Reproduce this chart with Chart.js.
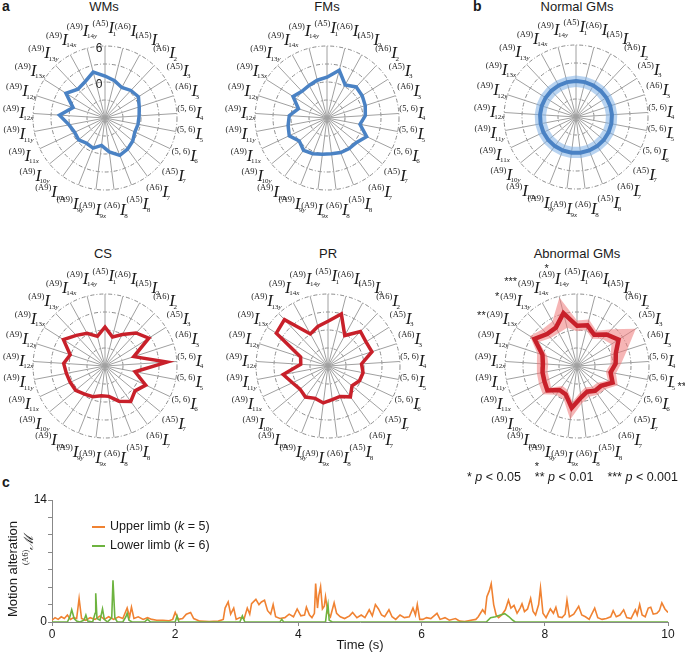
<!DOCTYPE html>
<html>
<head>
<meta charset="utf-8">
<script src="https://cdn.jsdelivr.net/npm/chart.js@4.4.1/dist/chart.umd.min.js"></script>
<style>
  body { margin: 0; background: #fff; }
  #fig { position: relative; width: 685px; height: 655px; overflow: hidden; font-family: "Liberation Sans", Arial, sans-serif; color: #1a1a1a; }
  .abs { position: absolute; white-space: nowrap; }
  .tag { font-weight: bold; font-size: 14px; }
  .ttl { font-size: 13px; transform: translateX(-50%); }
  canvas { position: absolute; }
</style>
</head>
<body>
<div id="fig">
  <div class="abs tag" style="left:2px;top:-2px">a</div>
  <div class="abs tag" style="left:473px;top:-2px">b</div>
  <div class="abs tag" style="left:2px;top:474px">c</div>

  <div class="abs ttl" style="left:104px;top:-1px">WMs</div>
  <div class="abs ttl" style="left:327px;top:-1px">FMs</div>
  <div class="abs ttl" style="left:577px;top:-1px">Normal GMs</div>
  <div class="abs ttl" style="left:103px;top:246px">CS</div>
  <div class="abs ttl" style="left:328px;top:246px">PR</div>
  <div class="abs ttl" style="left:577px;top:246px">Abnormal GMs</div>

  <canvas id="wms"></canvas>
  <canvas id="fms"></canvas>
  <canvas id="normal"></canvas>
  <canvas id="cs"></canvas>
  <canvas id="pr"></canvas>
  <canvas id="abnormal"></canvas>

  <div class="abs" style="left:467px;top:470px;font-size:12.5px">* <i>p</i> &lt; 0.05 &nbsp;&nbsp; ** <i>p</i> &lt; 0.01 &nbsp;&nbsp; *** <i>p</i> &lt; 0.001</div>

  <canvas id="motion"></canvas>

  <div class="abs" style="left:92px;top:526px;width:13px;height:2px;background:#f08232"></div>
  <div class="abs" style="left:110px;top:519px;font-size:12.5px">Upper limb (<i>k</i> = 5)</div>
  <div class="abs" style="left:92px;top:545px;width:13px;height:2px;background:#6db33f"></div>
  <div class="abs" style="left:110px;top:538px;font-size:12.5px">Lower limb (<i>k</i> = 6)</div>

  <div class="abs" style="left:12px;top:569px;font-size:13px;transform:translate(-50%,-50%) rotate(-90deg)">Motion alteration</div>
  <div class="abs" style="left:28px;top:550px;font-size:13px;transform:translate(-50%,-50%) rotate(-90deg)"><span style="font-size:8px;vertical-align:5px;font-family:'Liberation Serif'">(A6)</span><span style="font-family:'DejaVu Serif';font-style:italic">ℳ</span></div>
  <div class="abs" style="left:360px;top:637px;font-size:13px;transform:translateX(-50%)">Time (s)</div>
</div>

<script>
// spoke labels: superscript prefix + I + subscript
const spokePrefix = ['(A5)', '(A6)', '(A5)', '(A6)', '(A5)', '(A6)', '(5, 6)', '(5, 6)', '(5, 6)', '(A5)', '(A6)', '(A5)', '(A6)',
  '(A9)', '(A9)', '(A9)', '(A9)', '(A9)', '(A9)', '(A9)', '(A9)', '(A9)', '(A9)', '(A9)', '(A9)'];
const spokeIndex = ['1', '1', '2', '2', '3', '3', '4', '5', '6', '7', '7', '8', '8',
  '9x', '9y', '10x', '10y', '11x', '11y', '12x', '12y', '13x', '13y', '14x', '14y'];

// panel a
const wmsValues = [1.0, 0.4, -0.2, 0.3, 0.6, 0.0, -0.3, -0.4, -0.5, 0.0, 0.4, 0.7, -0.3, -1.4, -0.6, -0.8, -0.3, -0.4, 0.1, 1.6, -0.4, 1.7, 0.6, 0.9, 1.9];
const fmsValues = [0.8, 2.2, 0.3, 1.1, 0.95, 0.7, 0.4, -0.4, 1.3, 0.4, 0.3, 0.2, 0.0, 0.1, 0.4, 0.65, 0.0, 0.95, 0.6, 0.3, -1.0, 0.7, 0.1, 0.2, 0.5];
const csValues = [0.5, -1.0, 0.0, 1.55, 2.65, -0.95, 4.35, -0.9, 1.5, 0.5, 1.3, 0.3, -0.9, -1.0, -0.5, -0.2, 0.35, 0.4, 0.55, 0.9, 0.1, 2.2, 1.0, 0.2, -0.9];
const prValues = [1.45, 2.95, -0.2, 1.9, 1.5, 1.7, -0.4, -0.05, -0.2, -0.8, 0.35, -0.55, -0.35, 0.2, -0.2, 0.4, 0.05, 0.55, 1.6, -1.45, -1.2, 4.2, 4.6, 0.1, 0.8];

// panel b
const normalMean = [0, 0, 0, 0, 0, 0, 0, 0, 0, 0, 0, 0, 0, 0, 0, 0, 0, 0, 0, 0, 0, 0, 0, 0, 0];
const normalUpper = [0.9, 0.9, 0.9, 0.9, 0.9, 0.9, 0.9, 0.9, 0.9, 0.9, 0.9, 0.9, 0.9, 0.9, 0.9, 0.9, 0.9, 0.9, 0.9, 0.9, 0.9, 0.9, 0.9, 0.9, 0.9];
const normalLower = [-1.0, -1.0, -1.0, -1.0, -1.0, -1.0, -1.0, -1.0, -1.0, -1.0, -1.0, -1.0, -1.0, -1.0, -1.0, -1.0, -1.0, -1.0, -1.0, -1.0, -1.0, -1.0, -1.0, -1.0, -1.0];
const abnormalMean = [0.7, 1.0, -0.05, 1.2, 2.2, 0.8, 0.45, -0.3, 0.55, -0.8, -0.9, -1.4, -0.7, 1.05, -0.9, -1.05, 0.4, 0.0, -0.15, -0.3, 0.05, 2.4, 1.3, 1.3, 3.1];
const abnormalUpper = [1.6, 2.0, 0.7, 2.4, 5.6, 2.8, 1.4, 0.6, 1.5, 0.1, -0.1, -0.5, 0.3, 3.0, 0.0, -0.1, 1.4, 1.0, 0.8, 0.7, 1.0, 3.3, 2.4, 2.5, 5.8];
const abnormalLower = [-0.2, 0.2, -0.8, 0.2, 0.8, -0.1, -0.4, -1.1, -0.3, -1.6, -1.7, -2.2, -1.6, 0.0, -1.7, -1.9, -0.4, -0.9, -1.0, -1.2, -0.8, 1.5, 0.4, 0.3, 0.6];
const abnormalStars = ['', '', '', '', '', '', '', '**', '', '', '', '', '', '', '*', '', '', '', '', '', '', '**', '*', '***', '*'];

// panel c
const upperT = [0.00, 0.05, 0.10, 0.15, 0.20, 0.25, 0.30, 0.35, 0.40, 0.44, 0.48, 0.55, 0.62, 0.70, 0.78, 0.85, 0.92, 1.00, 1.08, 1.15,
  1.22, 1.26, 1.29, 1.33, 1.40, 1.48, 1.55, 1.62, 1.70, 1.80, 1.90, 1.96, 2.00, 2.05, 2.12, 2.18, 2.25, 2.30, 2.40, 2.55,
  2.70, 2.78, 2.81, 2.86, 2.90, 2.95, 2.99, 3.05, 3.12, 3.17, 3.21, 3.24, 3.31, 3.36, 3.40, 3.45, 3.50, 3.55, 3.59, 3.63,
  3.70, 3.78, 3.85, 3.92, 3.98, 4.04, 4.10, 4.13, 4.18, 4.22, 4.26, 4.28, 4.31, 4.33, 4.36, 4.39, 4.42, 4.44, 4.48, 4.52,
  4.58, 4.62, 4.68, 4.75, 4.83, 4.88, 4.95, 5.02, 5.08, 5.15, 5.20, 5.25, 5.30, 5.35, 5.40, 5.47, 5.52, 5.58, 5.65, 5.72,
  5.80, 5.86, 5.90, 5.93, 5.97, 6.02, 6.08, 6.15, 6.25, 6.30, 6.38, 6.45, 6.55, 6.62, 6.70, 6.80, 6.88, 6.92, 6.99, 7.03,
  7.06, 7.10, 7.13, 7.17, 7.21, 7.25, 7.30, 7.36, 7.41, 7.45, 7.50, 7.55, 7.60, 7.63, 7.67, 7.72, 7.77, 7.81, 7.85, 7.90,
  7.93, 7.97, 8.02, 8.09, 8.14, 8.18, 8.22, 8.28, 8.33, 8.36, 8.40, 8.47, 8.55, 8.60, 8.66, 8.72, 8.81, 8.86, 8.93, 9.00,
  9.07, 9.11, 9.16, 9.22, 9.28, 9.33, 9.40, 9.47, 9.50, 9.54, 9.58, 9.63, 9.68, 9.72, 9.76, 9.82, 9.86, 9.90, 9.95, 10.00];
const upperV = [0.2, 0.5, 0.3, 0.6, 0.4, 0.8, 0.3, 0.5, 0.4, 2.7, 0.4, 0.2, 0.5, 0.3, 0.7, 0.3, 0.6, 0.3, 0.6, 0.4,
  1.6, 0.6, 1.7, 0.4, 0.6, 0.3, 0.5, 0.3, 0.2, 0.2, 0.15, 0.3, 1.1, 0.3, 0.4, 0.9, 1.1, 0.4, 0.1, 0.05,
  0.1, 0.3, 1.6, 2.3, 0.9, 1.6, 0.3, 0.5, 0.4, 1.6, 0.9, 2.1, 2.6, 2.0, 2.3, 2.5, 1.3, 0.9, 2.0, 0.6,
  0.4, 0.5, 0.9, 0.6, 1.5, 0.7, 0.8, 1.7, 0.8, 0.5, 1.0, 4.4, 1.6, 3.0, 4.05, 1.5, 1.8, 2.9, 1.0, 0.6,
  2.2, 1.0, 0.6, 0.4, 0.7, 1.1, 0.5, 0.8, 0.5, 1.4, 0.7, 2.0, 1.5, 0.8, 0.6, 1.4, 0.6, 0.3, 0.8, 0.5,
  0.6, 1.6, 0.8, 2.0, 0.3, 0.3, 0.5, 0.4, 1.0, 0.3, 0.5, 0.2, 0.4, 0.1, 0.05, 0.2, 0.3, 0.6, 1.4, 1.0,
  2.9, 3.6, 4.4, 2.0, 0.8, 0.5, 0.8, 1.4, 2.5, 1.6, 1.9, 1.0, 1.6, 2.1, 1.2, 1.5, 2.7, 1.2, 0.8, 2.0,
  3.9, 1.0, 0.5, 1.5, 1.0, 1.7, 0.6, 0.5, 0.9, 2.5, 0.6, 0.9, 1.8, 0.8, 0.6, 0.3, 1.6, 0.5, 0.3, 0.4,
  0.6, 1.3, 0.6, 0.8, 1.4, 0.5, 0.4, 1.4, 0.8, 2.0, 0.8, 0.6, 1.6, 1.7, 0.9, 1.0, 1.3, 2.2, 1.5, 1.1];
const lowerT = [0.00, 0.25, 0.29, 0.32, 0.36, 0.40, 0.45, 0.52, 0.55, 0.58, 0.66, 0.70, 0.71, 0.73, 0.78, 0.82, 0.85, 0.90, 0.97, 0.99,
  1.02, 1.06, 1.15, 1.20, 1.22, 1.25, 1.30, 1.50, 1.55, 1.60, 2.00, 2.03, 2.06, 3.05, 3.09, 3.13, 3.70, 3.73, 3.76, 4.44,
  4.46, 4.48, 4.50, 4.55, 7.05, 7.12, 7.20, 7.28, 7.35, 7.42, 7.48, 7.52, 10.00];
const lowerV = [0, 0, 0.6, 1.4, 0.4, 0.1, 0, 0.2, 0.8, 0.1, 0, 1.0, 3.3, 0.4, 0.2, 1.5, 0.3, 0, 0.5, 4.8,
  0.5, 0, 0, 0.6, 1.0, 0.2, 0, 0, 0.3, 0, 0, 0.7, 0, 0, 0.7, 0, 0, 0.3, 0, 0,
  1.2, 2.0, 0.2, 0, 0, 0.5, 0.6, 0.8, 0.95, 0.6, 0.2, 0, 0];

const BLUE = '#4a82c4';
const RED = '#c8202a';
const ORANGE = '#f08232';
const GREEN = '#6db33f';

const spokeLabels = {
  id: 'spokeLabels',
  afterDraw(chart, args, opts) {
    const sc = chart.scales.r;
    const ctx = chart.ctx;
    const R = sc.drawingArea;
    const pre = '8.5px "Liberation Serif"';
    const small = '7px "Liberation Serif"';
    const smallIt = 'italic 7px "Liberation Serif"';
    const big = 'italic 17px "Liberation Serif"';
    ctx.save();
    ctx.fillStyle = '#1a1a1a';
    ctx.textAlign = 'left';
    ctx.textBaseline = 'alphabetic';
    for (let i = 0; i < spokePrefix.length; i++) {
      const a = sc.getIndexAngle(i);
      const s = Math.sin(a), c = Math.cos(a);
      // bottom labels sit a little further out, like the original
      const p = sc.getPointPosition(i, R + 14 + 4 * Math.abs(c) + (c < 0 ? 3 * Math.abs(c) : 0));
      const num = spokeIndex[i].replace(/[xy]/, '');
      const axis = spokeIndex[i].slice(num.length);
      ctx.font = pre;
      const wp = ctx.measureText(spokePrefix[i]).width;
      ctx.font = small;
      const wn = ctx.measureText(num).width;
      ctx.font = smallIt;
      const wa = ctx.measureText(axis).width;
      ctx.font = big;
      const wi = ctx.measureText('I').width;
      const w = wp + wi + wn + wa;
      const x = p.x - w / 2;
      const base = p.y + 5;
      ctx.font = pre;
      ctx.fillText(spokePrefix[i], x, base - 7);
      ctx.font = big;
      ctx.fillText('I', x + wp, base);
      ctx.font = small;
      ctx.fillText(num, x + wp + wi - 1.5, base + 2.5);
      ctx.font = smallIt;
      ctx.fillText(axis, x + wp + wi - 1.5 + wn, base + 2.5);

      const st = opts.stars ? opts.stars[i] : '';
      if (st) {
        ctx.font = '11px "Liberation Sans"';
        const ws = ctx.measureText(st).width;
        let sx, sy;
        if (Math.abs(s) > 0.4) {
          sx = p.x + Math.sign(s) * (w / 2 + ws / 2 + 1);
          sy = p.y - c * 10;
        } else {
          sx = x + wp / 2;
          sy = p.y - c * 13;
        }
        ctx.textAlign = 'center';
        ctx.textBaseline = 'middle';
        ctx.fillText(st, sx, sy + 3);
        ctx.textAlign = 'left';
        ctx.textBaseline = 'alphabetic';
      }
    }
    if (opts.ticks) {
      ctx.font = '12px "Liberation Sans"';
      ctx.textAlign = 'center';
      ctx.textBaseline = 'middle';
      for (const v of [6, 0]) {
        const q = sc.getPointPositionForValue(0, v);
        ctx.fillText(String(v), q.x - 6, q.y + 3);
      }
    }
    ctx.restore();
  }
};

const R_SIZE = 250;
function radar(id, cx, cy, sets, extra) {
  const cv = document.getElementById(id);
  cv.width = R_SIZE;
  cv.height = R_SIZE;
  cv.style.left = (cx - R_SIZE / 2) + 'px';
  cv.style.top = (cy - R_SIZE / 2) + 'px';
  return new Chart(cv, {
    type: 'radar',
    data: { labels: spokePrefix.map((p, i) => p + ' I' + spokeIndex[i]), datasets: sets },
    options: {
      responsive: false,
      animation: false,
      layout: { padding: (R_SIZE - 144) / 2 },
      elements: { point: { radius: 0 }, line: { tension: 0 } },
      plugins: { legend: { display: false }, tooltip: { enabled: false }, spokeLabels: extra || {} },
      scales: {
        r: {
          min: -6, max: 6,
          ticks: { display: false, stepSize: 3 },
          pointLabels: { display: false },
          grid: { circular: true, color: '#8c8c8c', lineWidth: 1 },
          border: { dash: [4, 2, 1, 2] },
          angleLines: { color: '#a0a0a0', lineWidth: 1 }
        }
      }
    },
    plugins: [spokeLabels]
  });
}

function line(values, color, width) {
  return { data: values, borderColor: color, borderWidth: width || 3.5, fill: false, pointRadius: 0 };
}
function band(upper, lower, color) {
  return [
    { data: upper, borderWidth: 0, borderColor: 'rgba(0,0,0,0)', backgroundColor: color, fill: '+1', pointRadius: 0 },
    { data: lower, borderWidth: 0, borderColor: 'rgba(0,0,0,0)', backgroundColor: 'rgba(0,0,0,0)', fill: false, pointRadius: 0 }
  ];
}

radar('wms', 105, 118, [line(wmsValues, BLUE)], { ticks: true });
radar('fms', 327, 118, [line(fmsValues, BLUE)]);
radar('normal', 576, 117, [line(normalMean, BLUE, 4), ...band(normalUpper, normalLower, 'rgba(125,175,228,0.55)')]);
radar('cs', 105, 366, [line(csValues, RED)]);
radar('pr', 328, 366, [line(prValues, RED)]);
radar('abnormal', 577, 366, [line(abnormalMean, RED, 4.5), ...band(abnormalUpper, abnormalLower, 'rgba(238,120,120,0.55)')], { stars: abnormalStars });

// panel c: motion alteration
const mc = document.getElementById('motion');
mc.width = 685;
mc.height = 165;
mc.style.left = '0px';
mc.style.top = '490px';
new Chart(mc, {
  type: 'line',
  data: {
    datasets: [
      { data: lowerT.map((t, i) => ({ x: t, y: lowerV[i] })), borderColor: GREEN, borderWidth: 1.6, pointRadius: 0, tension: 0 },
      { data: upperT.map((t, i) => ({ x: t, y: upperV[i] })), borderColor: ORANGE, borderWidth: 1.6, pointRadius: 0, tension: 0 }
    ]
  },
  options: {
    responsive: false,
    animation: false,
    layout: { padding: { left: 30, right: 17, top: 10, bottom: 0 } },
    plugins: { legend: { display: false }, tooltip: { enabled: false } },
    scales: {
      x: {
        type: 'linear', min: 0, max: 10,
        ticks: { stepSize: 2, color: '#1a1a1a', font: { size: 12, family: 'Liberation Sans' }, padding: 1, maxRotation: 0 },
        grid: { drawOnChartArea: false, drawTicks: true, tickLength: 4, color: '#888' },
        border: { color: '#888' },
        afterFit(a) { a.height = 33; }
      },
      y: {
        min: 0, max: 14,
        ticks: { stepSize: 2, color: '#1a1a1a', font: { size: 12, family: 'Liberation Sans' }, padding: 1,
          callback: v => (v === 0 || v === 14) ? String(v) : '' },
        grid: { drawOnChartArea: false, drawTicks: true, tickLength: 4, color: '#888' },
        border: { color: '#888' },
        afterFit(a) { a.width = 22; }
      }
    }
  }
});
</script>
</body>
</html>
